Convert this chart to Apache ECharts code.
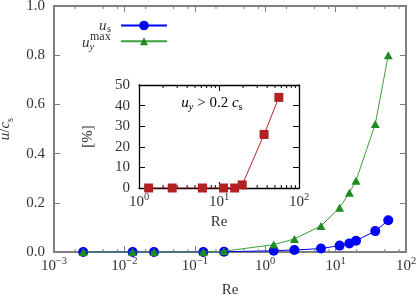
<!DOCTYPE html>
<html><head><meta charset="utf-8">
<script src="https://cdn.jsdelivr.net/npm/echarts@6/dist/echarts.min.js"></script>
<style>html,body{margin:0;padding:0;background:#fff}#c{width:416px;height:296px}</style>
</head><body><div id="c"></div>
<script>
// ---- data ----
const re = [0.0026, 0.0131, 0.0263, 0.132, 0.26, 1.32, 2.6, 6.2, 11.4, 15.7, 19.5, 36.6, 56];
const us = [0, 0, 0, 0, 0.001, 0.005, 0.008, 0.014, 0.026, 0.035, 0.046, 0.085, 0.129];
const uyMax = [0, 0, 0, 0, 0.003, 0.03, 0.053, 0.106, 0.18, 0.241, 0.29, 0.52, 0.80];
const reInset = [1.32, 2.6, 6.2, 11.4, 15.7, 19.5, 36.6, 56];
const pctAbove = [0, 0, 0, 0, 0, 1.5, 26, 44];
const mainDecades = [0.001, 0.01, 0.1, 1, 10];
const mainMinorMult = [2, 5, 8];
const insetDecades = [1, 10];
const insetMinorMult = [2, 3, 4, 5, 6, 7, 8, 9];

const FONT = 'Liberation Serif';
const TXT = '#333';
const GRAY = '#7f7f7f';
const BLUE = '#0000ff';
const GREEN = '#1e8c1e';
const GREENLINE = '#3ca03c';
const RED = '#b22222';

function minors(decs, mult) {
  const out = [];
  decs.forEach(d => mult.forEach(m => out.push([d * m, 0])));
  return out;
}
const richMath = {
  i: { fontStyle: 'italic', fontFamily: FONT, fontSize: 15, lineHeight: 20, color: TXT },
  r: { fontFamily: FONT, fontSize: 15, lineHeight: 20, color: TXT },
  b: { fontFamily: FONT, fontSize: 15, lineHeight: 20, color: TXT },
  sub: { fontFamily: FONT, fontSize: 10.5, lineHeight: 15, verticalAlign: 'bottom', color: TXT },
  isub: { fontFamily: FONT, fontStyle: 'italic', fontSize: 10.5, lineHeight: 15, verticalAlign: 'bottom', color: TXT },
  sup: { fontFamily: FONT, fontSize: 10.5, lineHeight: 12, verticalAlign: 'top', color: TXT }
};
function powLabel(v) {
  const e = Math.round(Math.log10(v));
  const s = e < 0 ? '\u2212' + (-e) : String(e);
  return '{b|10}{sup|' + s + '}';
}
function tickSeries(xi, yi, pts, y0, y1, len, color) {
  return {
    type: 'custom', xAxisIndex: xi, yAxisIndex: yi, silent: true, clip: false, z: 5,
    data: pts, encode: { x: 0, y: 1 },
    renderItem(params, api) {
      const b = api.coord([api.value(0), y0]);
      const t = api.coord([api.value(0), y1]);
      return { type: 'group', children: [
        { type: 'line', shape: { x1: b[0], y1: b[1], x2: b[0], y2: b[1] - len }, style: { stroke: color, lineWidth: 1 } },
        { type: 'line', shape: { x1: t[0], y1: t[1], x2: t[0], y2: t[1] + len }, style: { stroke: color, lineWidth: 1 } }
      ] };
    }
  };
}
function xAx(grid, min, max, pos, color, lw, showLabel, name, gap) {
  return {
    type: 'log', logBase: 10, gridIndex: grid, min: min, max: max, position: pos,
    axisLine: { show: true, onZero: false, lineStyle: { color: color, width: lw } },
    axisTick: { show: true, inside: true, length: 6, lineStyle: { color: color, width: 1 } },
    minorTick: { show: false }, splitLine: { show: false },
    axisLabel: { show: showLabel, formatter: powLabel, fontFamily: FONT, fontSize: 15, color: TXT,
      lineHeight: 20, margin: 4, rich: richMath },
    name: name, nameLocation: 'middle', nameGap: gap,
    nameTextStyle: { fontFamily: FONT, fontSize: 15, color: TXT }
  };
}
function yAx(grid, min, max, itv, pos, color, lw, showLabel, fmt, name, gap, rich) {
  return {
    type: 'value', gridIndex: grid, min: min, max: max, interval: itv, position: pos,
    axisLine: { show: true, onZero: false, lineStyle: { color: color, width: lw } },
    axisTick: { show: true, inside: true, length: 6, lineStyle: { color: color, width: 1 } },
    splitLine: { show: false },
    axisLabel: { show: showLabel, formatter: fmt, fontFamily: FONT, fontSize: 15, color: TXT, margin: 9, rich: richMath },
    name: name, nameLocation: 'middle', nameGap: gap, nameRotate: 90,
    nameTextStyle: { fontFamily: FONT, fontSize: 15, color: TXT, rich: rich || richMath }
  };
}
function legendIcon(name, top, h) {
  return { data: [name], right: 248, top: top, align: 'right', itemWidth: 46, itemHeight: h, padding: 0,
    formatter: () => '', textStyle: { fontSize: 1, lineHeight: 1 } };
}
function txt(str, x, y, align, size, italic) {
  return { type: 'text', x: x, y: y, z: 10, silent: true,
    style: { text: str, align: align, verticalAlign: 'middle', fill: TXT,
      font: (italic ? 'italic ' : '') + size + 'px "Liberation Serif"' } };
}

const chart = echarts.init(document.getElementById('c'), null, { renderer: 'canvas' });
chart.setOption({
  animation: false,
  backgroundColor: '#fff',
  textStyle: { fontFamily: FONT },
  grid: [
    { left: 54, right: 10, top: 6, bottom: 44, containLabel: false, outerBoundsMode: 'none' },
    { left: 139, right: 117, top: 85, bottom: 108, show: true, backgroundColor: '#fff', borderWidth: 0, z: 3,
      containLabel: false, outerBoundsMode: 'none' }
  ],
  xAxis: [
    xAx(0, 0.001, 100, 'bottom', GRAY, 2, true, 'Re', 31),
    xAx(0, 0.001, 100, 'top', GRAY, 2, false, '', 0),
    Object.assign(xAx(1, 1, 100, 'bottom', '#000', 1.3, true, 'Re', 27), { z: 4 }),
    Object.assign(xAx(1, 1, 100, 'top', '#000', 1.3, false, '', 0), { z: 4 })
  ],
  yAxis: [
    yAx(0, 0, 1, 0.2, 'left', GRAY, 2, true, v => '{b|' + v.toFixed(1) + '}', '{i|u}{r|/}{i|c}{sub|s}', 33),
    yAx(0, 0, 1, 0.2, 'right', GRAY, 2, false, null, '', 0),
    Object.assign(yAx(1, 0, 50, 10, 'left', '#000', 1.3, true, v => '{b|' + v + '}', '{r|[%]}', 41), { z: 4 }),
    Object.assign(yAx(1, 0, 50, 10, 'right', '#000', 1.3, false, null, '', 0), { z: 4 })
  ],
  legend: [ legendIcon('us', 20.7, 12), legendIcon('uy', 37.3, 10) ],
  graphic: [
    { type: 'text', x: 212, y: 103, z: 10,
      style: { text: '{i|u}{isub|y}{r| > 0.2 }{i|c}{sub|s}', align: 'center', verticalAlign: 'middle', rich: richMath } },
    txt('u', 106.5, 26.5, 'right', 15, true),
    txt('s', 107, 29.5, 'left', 10.5, false),
    txt('u', 89.5, 43.5, 'right', 15, true),
    txt('y', 89.5, 47, 'left', 10.5, true),
    txt('max', 90, 36.5, 'left', 12, false)
  ],
  series: [
    { name: 'us', type: 'line', xAxisIndex: 0, yAxisIndex: 0, z: 2,
      data: re.map((r, k) => [r, us[k]]), symbol: 'circle', symbolSize: 10,
      itemStyle: { color: BLUE }, lineStyle: { color: BLUE, width: 1 } },
    { name: 'uy', type: 'line', xAxisIndex: 0, yAxisIndex: 0, z: 3,
      data: re.map((r, k) => [r, uyMax[k]]), symbol: 'triangle', symbolSize: [9, 8],
      itemStyle: { color: GREEN }, lineStyle: { color: GREENLINE, width: 1 } },
    { name: 'pct', type: 'line', xAxisIndex: 2, yAxisIndex: 2, z: 6,
      data: reInset.map((r, k) => [r, pctAbove[k]]), symbol: 'rect', symbolSize: 9,
      itemStyle: { color: RED }, lineStyle: { color: RED, width: 1 } },
    tickSeries(0, 0, minors(mainDecades, mainMinorMult), 0, 1, 3, GRAY),
    tickSeries(2, 2, minors(insetDecades, insetMinorMult), 0, 50, 3, '#000')
  ]
});
</script></body></html>
